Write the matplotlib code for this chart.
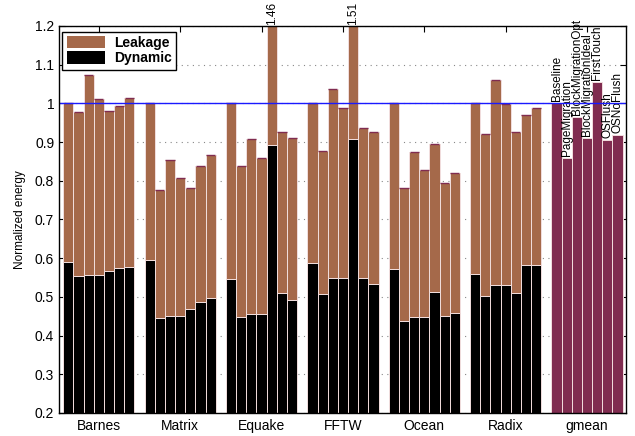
import matplotlib
matplotlib.use("Agg")
import matplotlib.pyplot as plt
import numpy as np
from matplotlib.patches import Patch

plt.rcParams['font.family'] = ['Liberation Sans', 'DejaVu Sans']

benchmarks = ["Barnes", "Matrix", "Equake", "FFTW", "Ocean", "Radix"]
configs = ["Baseline", "PageMigration", "BlockMigrationOpt", "BlockMigrationIdeal",
           "FirstTouch", "OSFlush", "OSNoFlush"]

# Total normalized energy per benchmark (one value per configuration)
total = {
    "Barnes": [1.000, 0.977, 1.074, 1.011, 0.981, 0.993, 1.015],
    "Matrix": [1.000, 0.777, 0.853, 0.806, 0.781, 0.837, 0.867],
    "Equake": [1.000, 0.838, 0.907, 0.858, 1.460, 0.927, 0.911],
    "FFTW":   [1.000, 0.878, 1.036, 0.987, 1.510, 0.936, 0.925],
    "Ocean":  [1.000, 0.782, 0.874, 0.827, 0.894, 0.795, 0.820],
    "Radix":  [1.000, 0.920, 1.061, 0.999, 0.926, 0.969, 0.989],
}
# Dynamic part of the energy
dynamic = {
    "Barnes": [0.589, 0.553, 0.556, 0.556, 0.567, 0.575, 0.577],
    "Matrix": [0.595, 0.445, 0.450, 0.450, 0.469, 0.487, 0.497],
    "Equake": [0.546, 0.449, 0.455, 0.455, 0.893, 0.510, 0.492],
    "FFTW":   [0.588, 0.507, 0.550, 0.550, 0.908, 0.549, 0.533],
    "Ocean":  [0.572, 0.438, 0.448, 0.448, 0.513, 0.451, 0.459],
    "Radix":  [0.559, 0.502, 0.531, 0.531, 0.510, 0.582, 0.583],
}
gmean = [1.000, 0.859, 0.965, 0.911, 1.056, 0.905, 0.918]
group_labels = benchmarks + ["gmean"]

C_LEAK = "#a5694a"
C_DYN = "#000000"
C_GM = "#802c50"
C_EDGE = "#f2dede"

fig = plt.figure(figsize=(6.35, 4.36), dpi=100)
ax = fig.add_axes([0.0929, 0.0528, 0.8929, 0.8876])

ymin, ymax = 0.2, 1.2
nper = len(configs)
step = nper + 1

for g, b in enumerate(benchmarks):
    x = g * step + np.arange(nper)
    tot = np.array(total[b])
    dyn = np.array(dynamic[b])
    ax.bar(x, dyn - ymin, bottom=ymin, width=1.0, color=C_DYN,
           edgecolor=C_EDGE, linewidth=0.7, zorder=2)
    ax.bar(x, tot - dyn, bottom=dyn, width=1.0, color=C_LEAK,
           edgecolor=C_EDGE, linewidth=0.7, zorder=2)
    ax.hlines(tot, x - 0.45, x + 0.45, color=C_GM, linewidth=1.0, zorder=3)
    for xi, t in zip(x, tot):
        if t > ymax:
            ax.text(xi, ymax + 0.002, f"{t:.2f}", rotation=90, ha="center",
                    va="bottom", fontsize=8.5, clip_on=False)

xg = len(benchmarks) * step + np.arange(nper)
ax.bar(xg, np.array(gmean) - ymin, bottom=ymin, width=1.0, color=C_GM,
       edgecolor=C_EDGE, linewidth=0.7, zorder=2)
for xi, v, name in zip(xg, gmean, configs):
    ax.text(xi, v + 0.005, name, rotation=90, ha="center", va="bottom",
            fontsize=8.5, zorder=4)

ax.axhline(1.0, color="#1a1aff", linewidth=1.0, zorder=4)

ax.set_xlim(-0.92, 54.83)
ax.set_ylim(ymin, ymax)
ax.set_yticks(np.arange(0.2, 1.21, 0.1))
ax.set_yticklabels(["0.2", "0.3", "0.4", "0.5", "0.6", "0.7", "0.8", "0.9",
                    "1", "1.1", "1.2"], fontsize=10)
centers = [g * step + (nper - 1) / 2 for g in range(len(group_labels))]
ax.set_xticks(centers)
ax.set_xticklabels(group_labels, fontsize=10)
ax.tick_params(axis="x", direction="in", top=True, bottom=False, length=4, pad=4)
ax.tick_params(axis="y", direction="in", right=True, left=True, length=4)
ax.yaxis.grid(True, linestyle=(0, (1, 4)), color="#888888", linewidth=0.8, zorder=0)
ax.set_axisbelow(True)
ax.set_ylabel("Normalized energy", fontsize=8.5, labelpad=6)
for s in ax.spines.values():
    s.set_linewidth(1.0)
    s.set_zorder(5)

handles = [Patch(facecolor=C_LEAK, label="Leakage"),
           Patch(facecolor=C_DYN, label="Dynamic")]
leg = ax.legend(handles=handles, loc="upper left", bbox_to_anchor=(0.006, 0.985),
                fancybox=False, framealpha=1, edgecolor="black",
                prop={"weight": "bold", "size": 10}, handlelength=2.8,
                handleheight=1.0, borderpad=0.3, labelspacing=0.1,
                handletextpad=0.6, borderaxespad=0)
leg.get_frame().set_linewidth(1.0)
leg.set_zorder(6)

fig.savefig("out.png", dpi=100)
